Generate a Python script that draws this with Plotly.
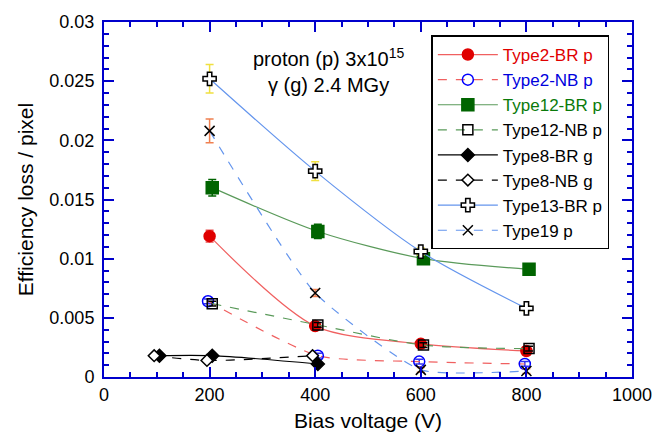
import plotly.graph_objects as go

# Data
t2br_x = [200, 400, 600, 800]
t2br_y = [0.0119, 0.0043, 0.0028, 0.0022]
t2br_e = [0.0005, 0.0002, 0.0002, 0.0002]

t2nb_x = [197, 405, 597, 797]
t2nb_y = [0.0064, 0.0018, 0.0013, 0.0011]
t2nb_e = [0.0002, 0.0002, 0.0002, 0.0002]

t12br_x = [205, 405, 605, 805]
t12br_y = [0.0160, 0.0123, 0.0100, 0.0091]
t12br_e = [0.0007, 0.0006, 0.0004, 0.0003]

t12nb_x = [205, 405, 605, 805]
t12nb_y = [0.0062, 0.0044, 0.0027, 0.0024]
t12nb_e = [0.0002, 0.0002, 0.0002, 0.0002]

t8br_x = [105, 205, 405]
t8br_y = [0.0018, 0.0018, 0.0011]

t8nb_x = [95, 195, 395]
t8nb_y = [0.0018, 0.0014, 0.0018]

t13br_x = [200, 400, 600, 800]
t13br_y = [0.0252, 0.0174, 0.0106, 0.0058]
t13br_e = [0.0012, 0.0008, 0.0003, 0.0002]

t19_x = [200, 400, 600, 800]
t19_y = [0.0208, 0.0071, 0.0006, 0.0005]
t19_e = [0.0010, 0.0003, 0.0002, 0.0002]

FONT = "Liberation Sans, Arial, sans-serif"

fig = go.Figure()

def add(x, y, name, lcolor, dash, symbol, mcolor, mline, msize, err=None, ecolor=None, fill=None, smooth=0.8):
    fig.add_trace(go.Scatter(
        x=x, y=y, name=name, mode="lines+markers",
        line=dict(color=lcolor, width=1.2, dash=dash, shape="spline", smoothing=smooth),
        marker=dict(symbol=symbol, size=msize, color=fill if fill else mcolor,
                    line=dict(color=mline, width=1.5)),
        error_y=(dict(type="data", array=err, color=ecolor, thickness=1.5, width=4, visible=True)
                 if err is not None else None),
    ))

add(t2br_x, t2br_y, "<span style='color:#e00000'>Type2-BR p</span>", "#f06060", "solid",
    "circle", "#e00000", "#e00000", 11, t2br_e, "#e85050")
add(t2nb_x, t2nb_y, "<span style='color:#0000dd'>Type2-NB p</span>", "#f06060", "dash",
    "circle-open", "#0000ff", "#2020ee", 11, t2nb_e, "#3030ee", smooth=0.6)
add(t12br_x, t12br_y, "<span style='color:#0a7a0a'>Type12-BR p</span>", "#5a9a5a", "solid",
    "square", "#006400", "#006400", 12, t12br_e, "#006400")
add(t12nb_x, t12nb_y, "Type12-NB p", "#5a9a5a", "dash",
    "square-open", "#000000", "#000000", 10, t12nb_e, "#000000")
add(t8br_x, t8br_y, "Type8-BR g", "#000000", "solid",
    "diamond", "#000000", "#000000", 10)
add(t8nb_x, t8nb_y, "Type8-NB g", "#000000", "dash",
    "diamond", "#ffffff", "#000000", 9, fill="#ffffff")
add(t13br_x, t13br_y, "Type13-BR p", "#6495ed", "solid",
    "cross", "#ffffff", "#000000", 11, t13br_e, "#f0e040", fill="#ffffff")
add(t19_x, t19_y, "Type19 p", "#6495ed", "dash",
    "x-thin-open", "#000000", "#333333", 10, t19_e, "#f08050", smooth=0.5)

axis_common = dict(
    showline=True, linecolor="#0000cc", linewidth=2, mirror="ticks",
    ticks="inside", tickcolor="#0000cc", tickwidth=2, ticklen=10,
    showgrid=False, zeroline=False,
    tickfont=dict(family=FONT, size=18, color="#000000"),
)

fig.update_xaxes(range=[0, 1000], tick0=0, dtick=200,
                 minor=dict(ticks="inside", dtick=50, ticklen=5, tickcolor="#0000cc", tickwidth=2),
                 title=dict(text="Bias voltage (V)", font=dict(family=FONT, size=21, color="#000000"),
                            standoff=10),
                 **axis_common)
fig.update_yaxes(range=[0, 0.03], tick0=0, dtick=0.005, tickformat="~g",
                 ticklabelstandoff=4,
                 minor=dict(ticks="inside", dtick=0.001, ticklen=5, tickcolor="#0000cc", tickwidth=2),
                 title=dict(text="Efficiency loss / pixel", font=dict(family=FONT, size=21, color="#000000"),
                            standoff=10),
                 **axis_common)

fig.add_annotation(x=0.425, y=0.94, xref="paper", yref="paper", showarrow=False,
                   text="proton (p) 3x10<sup>15</sup><br>γ (g) 2.4 MGy", align="center",
                   font=dict(family=FONT, size=20, color="#000000"))

fig.update_layout(
    width=664, height=441,
    margin=dict(l=104, r=22, t=18, b=62),
    plot_bgcolor="white", paper_bgcolor="white",
    font=dict(family=FONT, size=17, color="#000000"),
    legend=dict(x=0.62, y=0.962, xanchor="left", yanchor="top",
                bgcolor="white", bordercolor="#000000", borderwidth=1.5,
                font=dict(family=FONT, size=17, color="#000000"),
                itemwidth=60, tracegroupgap=0),
    showlegend=True,
)

fig.write_html("out.html")
